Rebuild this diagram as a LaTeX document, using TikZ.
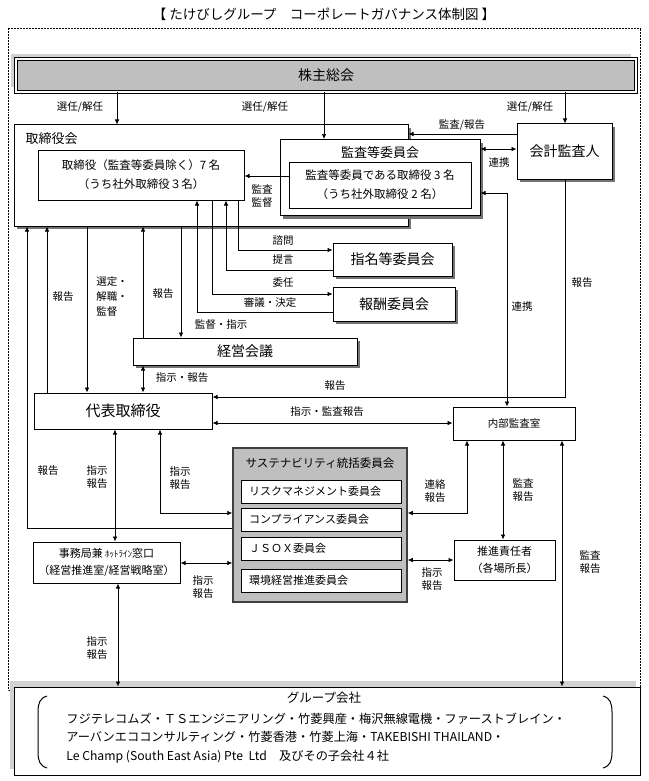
\documentclass[tikz,border=0pt]{standalone}
\usepackage{fontspec}
\setmainfont{Noto Sans CJK JP}
\usetikzlibrary{arrows.meta,shadows}
\begin{document}
\begin{tikzpicture}[x=1pt,y=-1pt,
    >={Latex[length=5pt,width=4.5pt]}, line width=0.7pt,
    box/.style={draw,line width=1pt,fill=white,inner sep=0pt,align=center},
    sbox/.style={box,drop shadow={shadow xshift=3pt,shadow yshift=-3pt,fill=black!55,opacity=1}},
    lab/.style={font=\fontsize{10.5}{13.5}\selectfont,inner sep=0pt,align=center},
    big/.style={font=\fontsize{14}{16}\selectfont},
    mid/.style={font=\fontsize{11.5}{19}\selectfont},
    small/.style={font=\fontsize{11}{17}\selectfont}]
    \useasboundingbox (0,0) rectangle (648,781);
    \node[font=\fontsize{13.5}{15}\selectfont] (title) at (324,14) {【 たけびしグループ\quad コーポレートガバナンス体制図 】};
    \draw[densely dotted,line width=0.5pt] (8,28) rectangle (640,690);
    % boxes
    \node[box,fill=gray!50,double,double distance=1.5pt,minimum width=620pt,minimum height=33pt,big,
      drop shadow={shadow xshift=-5pt,shadow yshift=5pt,fill=gray!35,opacity=1}] (kabu) at (326,75.5) {株主総会};
    \node[sbox,minimum width=394pt,minimum height=101pt] (torikai) at (211,175.5) {};
    \node[anchor=west,font=\fontsize{13}{15}\selectfont] (torikai-t) at (22,139) {取締役会};
    \node[box,mid,minimum width=206pt,minimum height=50pt] (tori) at (141,175) {取締役（監査等委員除く）7 名\\（うち社外取締役３名）};
    \node[sbox,minimum width=200pt,minimum height=76pt] (kansakai) at (380,177.5) {};
    \node[font=\fontsize{13}{15}\selectfont] (kansakai-t) at (380,153) {監査等委員会};
    \node[box,mid,minimum width=182pt,minimum height=46pt] (kansa) at (380,185) {監査等委員である取締役 3 名\\（うち社外取締役 2 名）};
    \node[sbox,big,minimum width=95pt,minimum height=55pt] (kaikei) at (564.5,151.5) {会計監査人};
    \node[sbox,big,minimum width=119pt,minimum height=33pt] (shimei) at (392.5,259.5) {指名等委員会};
    \node[sbox,big,minimum width=122pt,minimum height=34pt] (hoshu) at (394,304) {報酬委員会};
    \node[sbox,big,minimum width=224pt,minimum height=27pt] (keiei) at (245,351.5) {経営会議};
    \node[box,font=\fontsize{15}{17}\selectfont,minimum width=178pt,minimum height=36pt] (daihyo) at (123,411) {代表取締役};
    \node[box,font=\fontsize{10.5}{12}\selectfont,minimum width=122pt,minimum height=33pt] (naibu) at (514,423.5) {内部監査室};
    \node[box,fill=gray!50,draw=black!75,line width=1.5pt,minimum width=174pt,minimum height=154pt] (sus) at (320,525) {};
    \node[font=\fontsize{11.5}{13}\selectfont] (sus-t) at (320,463) {サステナビリティ統括委員会};
    \foreach \n/\y/\t in {risk/491.5/リスクマネジメント委員会,comp/519.5/コンプライアンス委員会,
        jsox/548.5/ＪＳＯＸ委員会,kankyo/580.5/環境経営推進委員会}
      \node[box,align=left,font=\fontsize{11}{13}\selectfont,text width=144pt,inner xsep=8pt,minimum height=23pt] (\n) at (321,\y) {\t};
    \node[box,small,minimum width=147pt,minimum height=41pt] (jimu) at (106.5,562.5) {事務局兼 {\fontsize{9}{10}\selectfont ﾎｯﾄﾗｲﾝ}窓口\\（経営推進室/経営戦略室）};
    \node[box,small,minimum width=101pt,minimum height=40pt] (suishin) at (504.5,560) {推進責任者\\（各場所長）};
    \node[box,minimum width=626pt,minimum height=88pt,
      drop shadow={shadow xshift=-4pt,shadow yshift=6pt,fill=gray!35,opacity=1}] (group) at (327,731) {};
    \node[font=\fontsize{12.5}{14}\selectfont] (group-t) at (324,698) {グループ会社};
    \node[anchor=west,align=left,inner sep=0pt,font=\fontsize{12.2}{18.5}\selectfont] (group-l) at (66,738)
      {フジテレコムズ・ＴＳエンジニアリング・竹菱興産・梅沢無線電機・ファーストブレイン・\\
       アーバンエココンサルティング・竹菱香港・竹菱上海・TAKEBISHI THAILAND・\\
       Le Champ (South East Asia) Pte\ \ Ltd　及びその子会社４社};
    \draw[line width=1pt] (47,696) .. controls (40,698) and (38,703) .. (38,712) -- (38,752) .. controls (38,761) and (40,766) .. (47,768);
    \draw[line width=1pt] (603,696) .. controls (610,698) and (612,703) .. (612,712) -- (612,752) .. controls (612,761) and (610,766) .. (603,768);
    % connectors
    \draw[->] (117,0 |- kabu.south) -- (117,0 |- torikai.north);
    \draw[->] (324,0 |- kabu.south) -- (324,0 |- kansakai.north);
    \draw[->] (565,0 |- kabu.south) -- (565,0 |- kaikei.north);
    \draw[->] (kaikei.west |- 0,134) -- (torikai.east |- 0,134);
    \draw[<->] (kansakai.east |- 0,149) -- (kaikei.west |- 0,149);
    \draw[->] (kansa.west |- 0,176) -- (tori.east |- 0,176);
    \draw[<->] (kansakai.east |- 0,193) -- (507,193) -- (507,0 |- naibu.north);
    \draw[->] (565,0 |- kaikei.south) -- (565,397) -- (daihyo.east |- 0,397);
    \draw[<->] (daihyo.east |- 0,423) -- (naibu.west |- 0,423);
    \draw[->] (238,0 |- tori.south) -- (238,250) -- (shimei.west |- 0,250);
    \draw[->] (shimei.west |- 0,270) -- (226,270) -- (226,0 |- tori.south);
    \draw[->] (212,0 |- tori.south) -- (212,294) -- (hoshu.west |- 0,294);
    \draw[->] (hoshu.west |- 0,312) -- (197,312) -- (197,0 |- tori.south);
    \draw[->] (sus.west |- 0,528) -- (27,528) -- (27,0 |- torikai.south);
    \draw[->] (47,0 |- daihyo.north) -- (47,0 |- torikai.south);
    \draw[->] (87,0 |- torikai.south) -- (87,0 |- daihyo.north);
    \draw[->] (143,0 |- keiei.north) -- (143,0 |- torikai.south);
    \draw[->] (181,0 |- torikai.south) -- (181,0 |- keiei.north);
    \draw[<->] (143,0 |- keiei.south) -- (143,0 |- daihyo.north);
    \draw[<->] (115,0 |- daihyo.south) -- (115,0 |- jimu.north);
    \draw[<->] (160,0 |- daihyo.south) -- (160,513) -- (sus.west |- 0,513);
    \draw[<->] (jimu.east |- 0,563) -- (sus.west |- 0,563);
    \draw[<->] (118,0 |- jimu.south) -- (118,0 |- group.north);
    \draw[<->] (sus.east |- 0,513) -- (467,513) -- (467,0 |- naibu.south);
    \draw[<->] (503,0 |- naibu.south) -- (503,0 |- suishin.north);
    \draw[<->] (sus.east |- 0,560) -- (suishin.west |- 0,560);
    \draw[<->] (562,0 |- naibu.south) -- (562,0 |- group.north);
    % labels
    \foreach \n/\x/\y/\t in {a/80/107/{選任/解任},b/265/107/{選任/解任},c/530/107/{選任/解任},
        d/462/125/{監査/報告},e/499/163/連携,f/262/196/{監査\\監督},g/283/241/諮問,h/283/260/提言,
        i/283/283/委任,j/270/303/審議・決定,k/522/307/連携,l/582/283/報告,m/63/297/報告,
        n/163/294/報告,o/221/325/監督・指示,p/182/378/指示・報告,q/335/386/報告,r/327/412/指示・監査報告,
        s/48/471/報告,t/97/477/{指示\\報告},u/180/478/{指示\\報告},v/203/587/{指示\\報告},
        w/97/648/{指示\\報告},x/435/491/{連絡\\報告},y/523/490/{監査\\報告},z/432/579/{指示\\報告},
        zz/590/562/{監査\\報告}}
      \node[lab] (lab-\n) at (\x,\y) {\t};
    \node[lab,anchor=west,align=left,font=\fontsize{10.5}{15}\selectfont] (lab-sen) at (96,297) {選定・\\解職・\\監督};
\end{tikzpicture}
\end{document}
